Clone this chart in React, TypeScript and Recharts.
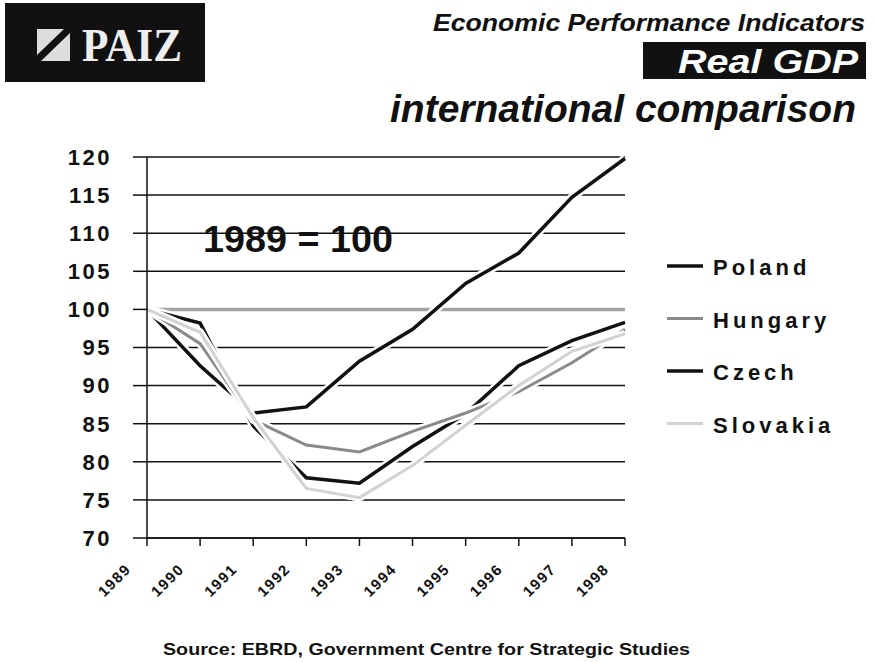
import { LineChart, Line, XAxis, YAxis, CartesianGrid, ReferenceLine } from 'recharts';

const years = ['1989', '1990', '1991', '1992', '1993', '1994', '1995', '1996', '1997', '1998'];
const poland = [100, 92.6, 86.4, 87.2, 93.2, 97.4, 103.4, 107.4, 114.7, 119.8];
const hungary = [100, 95.5, 85.5, 82.2, 81.3, 84, 86.4, 89.2, 93, 97.4];
const czech = [100, 98.2, 84.7, 77.9, 77.2, 82, 86.3, 92.6, 95.9, 98.3];
const slovakia = [100, 97, 85.8, 76.5, 75.3, 79.5, 84.8, 90, 94.5, 96.8];
const yTicks = [70, 75, 80, 85, 90, 95, 100, 105, 110, 115, 120];

const series = [
  { key: 'poland', name: 'Poland', color: '#111', width: 3.5 },
  { key: 'hungary', name: 'Hungary', color: '#8a8a8a', width: 3 },
  { key: 'czech', name: 'Czech', color: '#111', width: 3.5 },
  { key: 'slovakia', name: 'Slovakia', color: '#d2d2d2', width: 3 },
];
// drawing order: later ones sit on top
const drawOrder = ['poland', 'czech', 'hungary', 'slovakia'];

const data = years.map((year, i) => ({
  year,
  poland: poland[i],
  hungary: hungary[i],
  czech: czech[i],
  slovakia: slovakia[i],
}));

const font = '"Liberation Sans", Arial, sans-serif';

const XTick = ({ x, y, payload }: any) => (
  <text
    transform={`translate(${x - 15},${y + 22}) rotate(-45)`}
    textAnchor="end"
    fontFamily={font}
    fontWeight="bold"
    fontSize={15}
    letterSpacing={1.5}
    fill="#111"
  >
    {payload.value}
  </text>
);

export default function App() {
  return (
    <div style={{ position: 'absolute', left: 0, top: 0, width: 874, height: 662, background: '#fff' }}>
      <LineChart
        width={874}
        height={662}
        data={data}
        margin={{ top: 157, right: 249, bottom: 64, left: 57 }}
      >
        <CartesianGrid horizontal vertical={false} stroke="#111" strokeWidth={1.5} />
        <XAxis
          dataKey="year"
          scale="point"
          padding={{ left: 0, right: 0 }}
          height={60}
          tickSize={8}
          tickMargin={2}
          axisLine={{ stroke: '#111', strokeWidth: 1.5 }}
          tickLine={{ stroke: '#111', strokeWidth: 1.5 }}
          tick={<XTick />}
          interval={0}
        />
        <YAxis
          domain={[70, 120]}
          ticks={yTicks}
          width={90}
          tickSize={14}
          tickMargin={21}
          axisLine={{ stroke: '#111', strokeWidth: 1.5 }}
          tickLine={{ stroke: '#111', strokeWidth: 1.5 }}
          tick={{ fontFamily: font, fontWeight: 'bold', fontSize: 22, fill: '#111', letterSpacing: 2.5 }}
          interval={0}
        />
        <ReferenceLine y={100} stroke="#a3a3a3" strokeWidth={3.5} />
        {drawOrder.flatMap((k) => {
          const s = series.find((d) => d.key === k)!;
          return [
            <Line
              key={k + '-halo'}
              dataKey={k}
              stroke="#fff"
              strokeWidth={s.width + 5}
              dot={false}
              activeDot={false}
              legendType="none"
              isAnimationActive={false}
            />,
            <Line
              key={k}
              dataKey={k}
              name={s.name}
              stroke={s.color}
              strokeWidth={s.width}
              dot={false}
              activeDot={false}
              isAnimationActive={false}
            />,
          ];
        })}
      </LineChart>

      <svg
        width={874}
        height={662}
        style={{ position: 'absolute', left: 0, top: 0, pointerEvents: 'none' }}
        fontFamily={font}
      >
        {/* logo */}
        <rect x={5} y={3} width={200} height={79} fill="#111" />
        <rect x={37} y={29} width={33} height={32} fill="#ddd" />
        <polygon points="37,61 41,61 70,33 70,29 64,29 37,55" fill="#111" />
        <text
          x={82}
          y={61}
          fill="#eee"
          fontFamily='"Liberation Serif", "DejaVu Serif", serif'
          fontWeight="bold"
          fontSize={46}
          textLength={100}
          lengthAdjust="spacingAndGlyphs"
        >
          PAIZ
        </text>

        <text
          x={433}
          y={31}
          fill="#111"
          fontWeight="bold"
          fontStyle="italic"
          fontSize={23}
          textLength={432}
          lengthAdjust="spacingAndGlyphs"
        >
          Economic Performance Indicators
        </text>
        <rect x={643} y={42} width={223} height={37} fill="#111" />
        <text
          x={678}
          y={73}
          fill="#fff"
          fontWeight="bold"
          fontStyle="italic"
          fontSize={33}
          textLength={180}
          lengthAdjust="spacingAndGlyphs"
        >
          Real GDP
        </text>
        <text
          x={390}
          y={122}
          fill="#111"
          fontWeight="bold"
          fontStyle="italic"
          fontSize={39}
          textLength={466}
          lengthAdjust="spacingAndGlyphs"
        >
          international comparison
        </text>

        <text
          x={203}
          y={252}
          fill="#111"
          fontWeight="bold"
          fontSize={37}
          textLength={190}
          lengthAdjust="spacingAndGlyphs"
        >
          1989 = 100
        </text>

        {/* legend */}
        {series.map((s, i) => {
          const cy = 266 + i * 52.5;
          return (
            <g key={s.key}>
              <line x1={667} x2={703} y1={cy} y2={cy} stroke={s.color} strokeWidth={s.width} />
              <text x={713} y={cy + 9} fill="#111" fontWeight="bold" fontSize={22} letterSpacing={4}>
                {s.name}
              </text>
            </g>
          );
        })}

        <text
          x={163}
          y={655}
          fill="#111"
          fontWeight="bold"
          fontSize={17}
          textLength={527}
          lengthAdjust="spacingAndGlyphs"
        >
          Source:  EBRD, Government Centre for Strategic Studies
        </text>
      </svg>
    </div>
  );
}
